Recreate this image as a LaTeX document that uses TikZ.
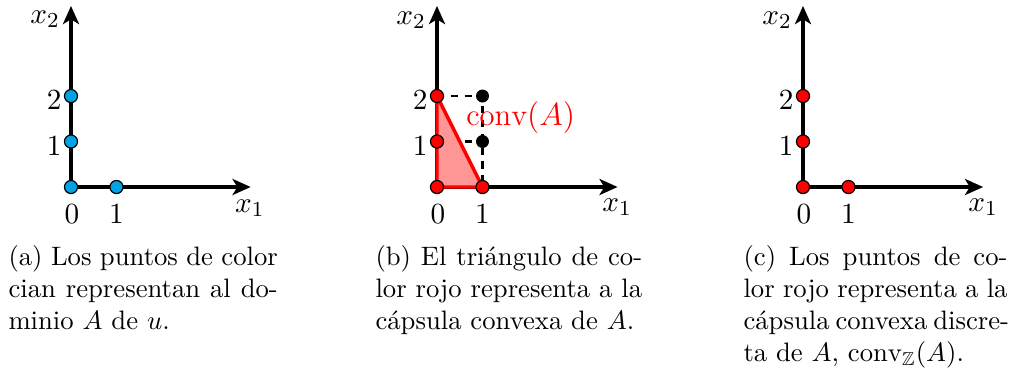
\documentclass[tikz,border=0pt]{standalone}
\usepackage{fontspec}
\usepackage{amsmath,amssymb}
\usetikzlibrary{arrows.meta}
\definecolor{ptblue}{RGB}{0,163,228}
\definecolor{trifill}{RGB}{255,150,150}
\tikzset{
  axisline/.style={line width=1.5pt, -{Stealth[length=6.8pt,width=6pt,inset=1.8pt]}},
  dot/.style={circle, draw=black, line width=0.45pt, inner sep=0pt, minimum size=4.9pt},
  bluedot/.style={dot, fill=ptblue},
  reddot/.style={dot, fill=red},
  blackdot/.style={dot, fill=black, minimum size=4.4pt},
  lbl/.style={inner sep=0pt, font=\fontsize{11}{13}\selectfont},
  dashline/.style={line width=1.1pt, dash pattern=on 2.7pt off 2.5pt},
  triangle/.style={fill=trifill, draw=red, line width=1.3pt, line join=round},
  capt/.style={anchor=base west, inner sep=0pt, font=\fontsize{10}{12}\selectfont}
}
\begin{document}
\begin{tikzpicture}[x=0.375pt, y=-0.375pt]
\useasboundingbox (0,0) rectangle (1014,374);

% ---------- panel (a)
\begin{scope}[shift={(71,187)}, x=17.06pt, y=17.06pt]
  \coordinate (aO) at (0,0);
  \coordinate (aX) at (3.95,0);
  \coordinate (aY) at (0,3.98);
  \draw[axisline] (aO) -- (aX);
  \draw[axisline] (aO) -- (aY);
  \node[lbl] (ax2) at (-0.57,3.69) {$x_2$};
  \node[lbl] (ax1) at (3.93,-0.46) {$x_1$};
  \node[lbl] (at0) at (0.02,-0.6) {$0$};
  \node[lbl] (at1) at (1.0,-0.6) {$1$};
  \node[lbl] (at2y) at (-0.37,1.9) {$2$};
  \node[lbl] (at1y) at (-0.37,0.9) {$1$};
  \node[bluedot] (a00) at (0,0) {};
  \node[bluedot] (a10) at (1,0) {};
  \node[bluedot] (a01) at (0,1) {};
  \node[bluedot] (a02) at (0,2) {};
\end{scope}

% ---------- panel (b)
\begin{scope}[shift={(437,187)}, x=17.06pt, y=17.06pt]
  \coordinate (bO) at (0,0);
  \coordinate (bX) at (3.97,0);
  \coordinate (bY) at (0,3.98);
  \coordinate (bc10) at (1,0);
  \coordinate (bc01) at (0,1);
  \coordinate (bc02) at (0,2);
  \coordinate (bc11) at (1,1);
  \coordinate (bc12) at (1,2);
  \draw[axisline] (bO) -- (bX);
  \draw[axisline] (bO) -- (bY);
  \draw[dashline] (bc02) -- (bc12) -- (bc10);
  \draw[dashline] (bc01) -- (bc11);
  \draw[triangle] (bO) -- (bc10) -- (bc02) -- cycle;
  \node[lbl] (bx2) at (-0.57,3.67) {$x_2$};
  \node[lbl] (bx1) at (3.96,-0.44) {$x_1$};
  \node[lbl] (bt0) at (0.02,-0.6) {$0$};
  \node[lbl] (bt1) at (1.0,-0.6) {$1$};
  \node[lbl] (bt2y) at (-0.37,1.9) {$2$};
  \node[lbl] (bt1y) at (-0.37,0.9) {$1$};
  \node[inner sep=0pt, text=red, font=\fontsize{11.5}{13}\selectfont] (bconv) at (1.84,1.52) {$\mathrm{conv}(A)$};
  \node[blackdot] (b11) at (bc11) {};
  \node[blackdot] (b12) at (bc12) {};
  \node[reddot] (b00) at (bO) {};
  \node[reddot] (b10) at (bc10) {};
  \node[reddot] (b01) at (bc01) {};
  \node[reddot] (b02) at (bc02) {};
\end{scope}

% ---------- panel (c)
\begin{scope}[shift={(803,187)}, x=17.06pt, y=17.06pt]
  \coordinate (cO) at (0,0);
  \coordinate (cX) at (3.96,0);
  \coordinate (cY) at (0,3.98);
  \draw[axisline] (cO) -- (cX);
  \draw[axisline] (cO) -- (cY);
  \node[lbl] (cx2) at (-0.57,3.67) {$x_2$};
  \node[lbl] (cx1) at (3.96,-0.44) {$x_1$};
  \node[lbl] (ct0) at (0.02,-0.6) {$0$};
  \node[lbl] (ct1) at (1.0,-0.6) {$1$};
  \node[lbl] (ct2y) at (-0.37,1.9) {$2$};
  \node[lbl] (ct1y) at (-0.37,0.9) {$1$};
  \node[reddot] (c00) at (0,0) {};
  \node[reddot] (c10) at (1,0) {};
  \node[reddot] (c01) at (0,1) {};
  \node[reddot] (c02) at (0,2) {};
\end{scope}

% ---------- captions
\node[capt] (capa) at (8,265) {\parbox[t]{101pt}{%
  \makebox[101pt][s]{(a) Los puntos de color}\\
  \makebox[101pt][s]{cian representan al do-}\\
  minio $A$ de $u$.}};
\node[capt] (capb) at (375,265) {\parbox[t]{100pt}{%
  \makebox[100pt][s]{(b) El triángulo de co-}\\
  \makebox[100pt][s]{lor rojo representa a la}\\
  cápsula convexa de $A$.}};
\node[capt] (capc) at (743,265) {\parbox[t]{99pt}{%
  \makebox[99pt][s]{(c) Los puntos de co-}\\
  \makebox[99pt][s]{lor rojo representa a la}\\
  \makebox[99pt][s]{cápsula convexa discre-}\\
  ta de $A$, $\mathrm{conv}_{\mathbb{Z}}(A)$.}};
\end{tikzpicture}
\end{document}
